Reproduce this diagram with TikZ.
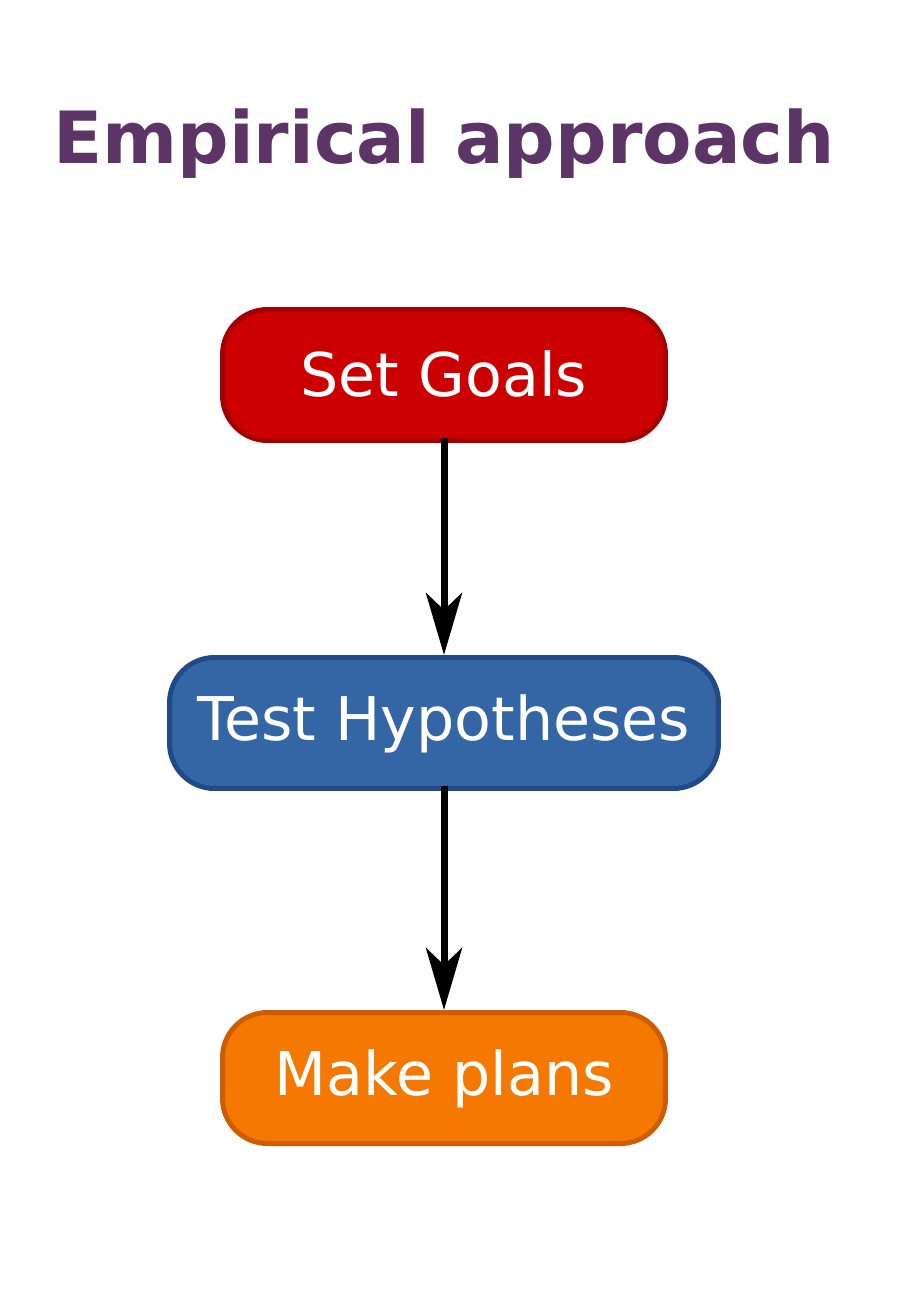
\documentclass[tikz,border=0pt]{standalone}
\usepackage{fontspec}
\setmainfont{DejaVu Sans}
\usetikzlibrary{arrows.meta}
\definecolor{titleplum}{HTML}{5C3566}
\definecolor{goalfill}{HTML}{CC0000}
\definecolor{goalline}{HTML}{A40000}
\definecolor{testfill}{HTML}{3465A4}
\definecolor{testline}{HTML}{204A87}
\definecolor{planfill}{HTML}{F57900}
\definecolor{planline}{HTML}{CE5C00}
\tikzset{
  stagebox/.style={rounded corners=0.9cm, line width=0.1cm, minimum height=2.62cm,
    text=white, font=\fontsize{34.3}{41}\selectfont, text height=0.88cm, text depth=0pt},
  flowarrow/.style={line width=0.14cm, -{Stealth[length=1.24cm, width=0.72cm, inset=0.34cm]}}
}
\begin{document}
\begin{tikzpicture}[x=0.02cm, y=-0.02cm]
                \useasboundingbox (0, 0) rectangle (913, 1291);

                  \node[anchor=base, text=titleplum, font=\fontsize{41}{49}\selectfont\bfseries] (title) at (444, 163){Empirical approach};

                  \node[stagebox, fill=goalfill, draw=goalline, minimum width=8.86cm] (goals) at (444, 375){Set Goals};
                  \node[stagebox, fill=testfill, draw=testline, minimum width=10.98cm, text depth=0.18cm] (tests) at (444, 723){Test Hypotheses};
                  \node[stagebox, fill=planfill, draw=planline, minimum width=8.86cm, text depth=0.2cm] (plans) at (444, 1078){Make plans};

                  \draw[flowarrow] ([yshift=0.1cm]goals.south) to (tests.north);
                  \draw[flowarrow] ([yshift=0.1cm]tests.south) to (plans.north);

\end{tikzpicture}
\end{document}
